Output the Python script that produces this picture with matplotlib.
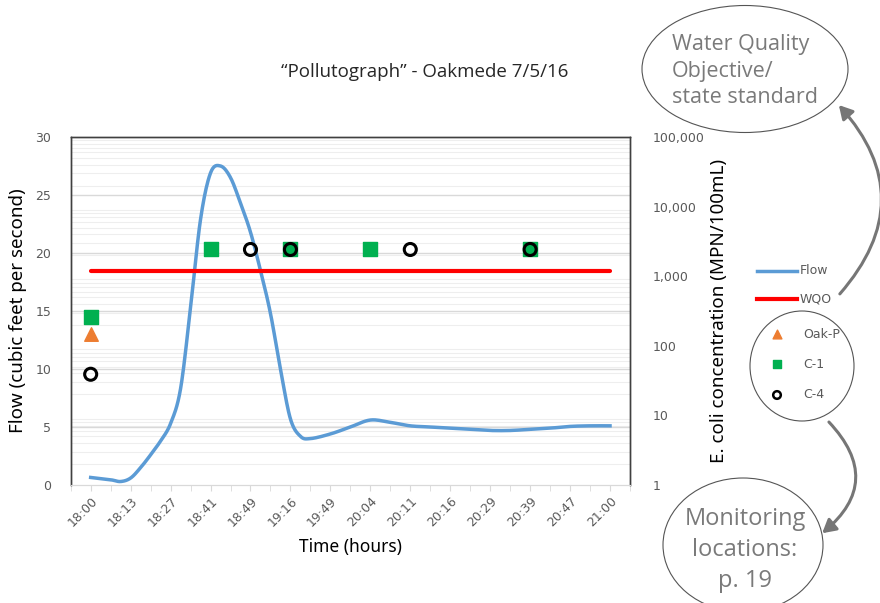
import numpy as np
import matplotlib
matplotlib.use("Agg")
import matplotlib.pyplot as plt
from matplotlib.lines import Line2D
from matplotlib.patches import Ellipse, FancyArrowPatch
from matplotlib.ticker import FuncFormatter, FixedLocator, NullLocator

# Categorias do eixo x (rótulo só a cada duas posições)
rotulos_tempo = ["18:00", "18:13", "18:27", "18:41", "18:49", "19:16", "19:49",
                 "20:04", "20:11", "20:16", "20:29", "20:39", "20:47", "21:00"]
pos_rotulos = list(range(1, 28, 2))

# Vazão (pés cúbicos por segundo)
pos_vazao = [1, 2, 2.5, 3, 3.5, 4, 4.5, 5, 5.5, 6, 6.5, 7, 7.5, 8, 8.5, 9,
             9.5, 10, 10.5, 11, 11.5, 12, 13, 14, 15, 16, 17, 18, 19, 20,
             21, 22, 23, 24, 25, 26, 27]
vazao = [0.65, 0.45, 0.3, 0.6, 1.5, 2.6, 3.8, 5.3, 8.3, 15.3, 22.9, 26.9,
         27.5, 26.5, 24.3, 21.8, 18.5, 14.8, 10.0, 5.7, 4.2, 4.0, 4.4, 5.0,
         5.6, 5.4, 5.1, 5.0, 4.9, 4.8, 4.7, 4.7, 4.8, 4.9, 5.05, 5.1, 5.1]

# E. coli (MPN/100mL) por ponto de monitoramento
pos_oak_p = [1]
oak_p = [148]
pos_c1 = [1, 7, 11, 15, 23]
c1 = [262, 2420, 2420, 2420, 2420]
pos_c4 = [1, 9, 11, 17, 23]
c4 = [39, 2420, 2420, 2420, 2420]

wqo = 1200
pos_wqo = [1, 27]

azul = "#5b9bd5"
vermelho = "#ff0000"
verde = "#00b050"
laranja = "#ed7d31"
cinza_txt = "#595959"
cinza_nota = "#7a7a7a"


def suavizar(x, y, n=16):
    # curva suavizada (Catmull-Rom) como a linha "suavizada" do Excel
    x = np.asarray(x, float)
    y = np.asarray(y, float)
    px = np.concatenate([[2 * x[0] - x[1]], x, [2 * x[-1] - x[-2]]])
    py = np.concatenate([[2 * y[0] - y[1]], y, [2 * y[-1] - y[-2]]])
    xs, ys = [], []
    t = np.linspace(0, 1, n, endpoint=False)
    for i in range(1, len(px) - 2):
        for p, out in ((px, xs), (py, ys)):
            p0, p1, p2, p3 = p[i - 1], p[i], p[i + 1], p[i + 2]
            out.extend(0.5 * (2 * p1 + (-p0 + p2) * t
                              + (2 * p0 - 5 * p1 + 4 * p2 - p3) * t ** 2
                              + (-p0 + 3 * p1 - 3 * p2 + p3) * t ** 3))
    xs.append(x[-1])
    ys.append(y[-1])
    return xs, ys


fig = plt.figure(figsize=(8.8, 6.03), dpi=100)
ax = fig.add_axes([70.7 / 880, 1 - 485 / 603, (630 - 70.7) / 880, (485 - 137) / 603])
ax2 = ax.twinx()

# grade: principais a cada 5 e secundárias do eixo log
for d in range(5):
    for m in range(2, 10):
        ax.axhline(6 * np.log10(m * 10 ** d), color="#eeeeee", lw=0.8, zorder=0)
for v in range(5, 30, 5):
    ax.axhline(v, color="#d9d9d9", lw=1.0, zorder=0)

xs, ys = suavizar(pos_vazao, vazao)
ax.plot(xs, ys, color=azul, lw=2.5, zorder=3)

ax.set_xlim(0, 28)
ax.set_ylim(0, 30)
ax.set_yticks(range(0, 31, 5))
ax.xaxis.set_major_locator(FixedLocator(pos_rotulos))
ax.xaxis.set_minor_locator(FixedLocator(range(0, 29)))
ax.set_xticklabels(rotulos_tempo, rotation=45, ha="right", va="top",
                   rotation_mode="anchor")
ax.tick_params(axis="x", which="both", length=4, color="#d9d9d9",
               labelsize=9, labelcolor=cinza_txt, pad=3)
ax.tick_params(axis="y", length=0, labelsize=9, labelcolor=cinza_txt, pad=14)
ax.set_ylabel("Flow (cubic feet per second)", fontsize=13.5, family="Noto Sans",
              labelpad=6)
ax.set_xlabel("Time (hours)", fontsize=12.5, family="Noto Sans", labelpad=6)

ax2.set_yscale("log")
ax2.set_ylim(1, 1e5)
ax2.yaxis.set_minor_locator(NullLocator())
ax2.yaxis.set_major_formatter(FuncFormatter(lambda v, p: f"{v:,.0f}"))
ax2.tick_params(axis="y", length=0, labelsize=9, labelcolor=cinza_txt, pad=16)
ax2.set_ylabel("E. coli concentration (MPN/100mL)", fontsize=13.5,
               family="Noto Sans", labelpad=4)

ax2.plot(pos_wqo, [wqo, wqo], color=vermelho, lw=3, solid_capstyle="round", zorder=2)
ax2.scatter(pos_oak_p, oak_p, marker="^", s=95, color=laranja, zorder=4)
ax2.scatter(pos_c1, c1, marker="s", s=110, color=verde, zorder=4)
ax2.scatter(pos_c4, c4, marker="o", s=75, facecolor="none", edgecolor="black",
            linewidth=2.2, zorder=5)

for a in (ax, ax2):
    for lado in ("left", "right", "top"):
        a.spines[lado].set_color("#404040")
        a.spines[lado].set_linewidth(1.0)
    a.spines["bottom"].set_color("#d9d9d9")

# título
fig.text(425 / 880, 1 - 72 / 603, "\u201cPollutograph\u201d - Oakmede 7/5/16",
         ha="center", va="center", fontsize=13.5, family="Open Sans",
         color="#262626")

# camada de anotações em coordenadas de pixel
over = fig.add_axes([0, 0, 1, 1], zorder=10)
over.set_xlim(0, 880)
over.set_ylim(603, 0)
over.axis("off")

# legenda
over.add_line(Line2D([757, 797], [271, 271], color=azul, lw=2.5))
over.add_line(Line2D([757, 797], [299, 299], color=vermelho, lw=3))
over.text(800, 271, "Flow", va="center", fontsize=9, color=cinza_txt)
over.text(800, 299, "WQO", va="center", fontsize=9, color=cinza_txt)
over.scatter([777], [334], marker="^", s=40, color=laranja)
over.scatter([777], [364], marker="s", s=40, color=verde)
over.scatter([777], [395], marker="o", s=30, facecolor="none",
             edgecolor="black", linewidth=1.8)
over.text(803, 334, "Oak-P", va="center", fontsize=9, color=cinza_txt)
over.text(803, 364, "C-1", va="center", fontsize=9, color=cinza_txt)
over.text(803, 395, "C-4", va="center", fontsize=9, color=cinza_txt)
over.add_patch(Ellipse((802, 366), 104, 110, fill=False, ec="#555555", lw=0.8))

# balões de nota
over.add_patch(Ellipse((745, 69), 206, 127, fill=False, ec="#555555", lw=0.8))
over.text(672, 71, "Water Quality\nObjective/\nstate standard", ha="left",
          va="center", fontsize=15.5, family="Open Sans", color=cinza_nota,
          linespacing=1.32)
over.add_patch(Ellipse((743, 545), 160, 134, fill=False, ec="#555555", lw=0.8))
over.text(745, 550, "Monitoring\nlocations:\np. 19", ha="center", va="center",
          fontsize=17, family="Open Sans", color=cinza_nota, linespacing=1.4)

# setas curvas
over.add_patch(FancyArrowPatch((838, 296), (837, 103),
                               connectionstyle="arc3,rad=0.45",
                               arrowstyle="-|>,head_length=8,head_width=4.5",
                               color="#767676", lw=2.2))
over.add_patch(FancyArrowPatch((827, 420), (820, 535),
                               connectionstyle="arc3,rad=-0.55",
                               arrowstyle="-|>,head_length=8,head_width=4.5",
                               color="#767676", lw=2.2))

plt.savefig("out.png", dpi=100)
